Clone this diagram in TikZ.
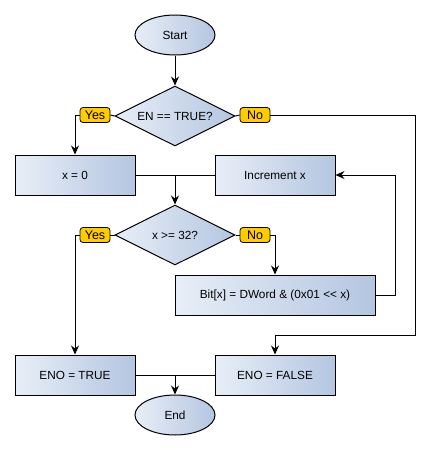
\documentclass[tikz,border=0pt]{standalone}
\usepackage{fontspec}
\setmainfont{Liberation Sans}
\usetikzlibrary{shapes.geometric,arrows.meta}
\definecolor{gradL}{HTML}{E8EEF7}
\definecolor{gradR}{HTML}{B4C6E1}
\definecolor{gold}{HTML}{FFCC00}
\tikzset{
  base/.style={draw=black, line width=1pt, left color=gradL, right color=gradR, inner sep=0pt,
    font=\fontsize{11.8}{14}\selectfont},
  procbox/.style={base, rectangle, minimum height=40pt},
  term/.style={base, ellipse, minimum width=80pt, minimum height=40pt},
  decision/.style={base, diamond, aspect=2, minimum width=120pt, minimum height=60pt},
  tag/.style={draw=black, line width=0.8pt, fill=gold, rounded corners=3pt, inner sep=0pt,
    minimum width=30pt, minimum height=15pt, font=\fontsize{12.5}{14}\selectfont},
  conn/.style={draw=black, line width=1pt},
  arr/.style={conn, -{Stealth[length=9pt,width=8pt,inset=3pt]}},
}
\begin{document}
\begin{tikzpicture}[x=1pt,y=-1pt]
\useasboundingbox (0,0) rectangle (430,450);
\node[term] (start) at (175,35) {Start};
\node[decision] (d1) at (175,116) {EN == TRUE?};
\node[tag] (yes1) at (95,115) {Yes};
\node[tag] (no1) at (255,115) {No};
\node[procbox, minimum width=120pt] (x0) at (75,175) {x = 0};
\node[procbox, minimum width=120pt] (inc) at (275,175) {Increment x};
\node[decision] (d2) at (175,235) {x >= 32?};
\node[tag] (yes2) at (95,235) {Yes};
\node[tag] (no2) at (255,235) {No};
\node[procbox, minimum width=200pt] (bit) at (275,295) {Bit[x] = DWord \& (0x01 <{}< x)};
\node[procbox, minimum width=120pt] (enot) at (75,375) {ENO = TRUE};
\node[procbox, minimum width=120pt] (enof) at (275,375) {ENO = FALSE};
\node[term] (end) at (175,415) {End};
\coordinate (m1) at (175,175);
\coordinate (m2) at (175,375);
\coordinate (r1) at (415,115);
\coordinate (r2) at (415,335);
\coordinate (r3) at (395,175);

\draw[arr] (start) -- (d1);
\draw[conn] (d1.west) -- (yes1.east);
\draw[conn] (d1.east) -- (no1.west);
\draw[arr] (yes1.west) -| (x0.north);
\draw[arr] (no1.east) -- (r1) -- (r2) -| (enof.north);
\draw[conn] (x0.east) -- (inc.west);
\draw[arr] (m1) -- (d2.north);
\draw[conn] (d2.west) -- (yes2.east);
\draw[conn] (d2.east) -- (no2.west);
\draw[arr] (yes2.west) -| (enot.north);
\draw[arr] (no2.east) -| (bit.north);
\draw[arr] (bit.east) -| (r3) -- (inc.east);
\draw[conn] (enot.east) -- (enof.west);
\draw[arr] (m2) -- (end.north);
\end{tikzpicture}
\end{document}
